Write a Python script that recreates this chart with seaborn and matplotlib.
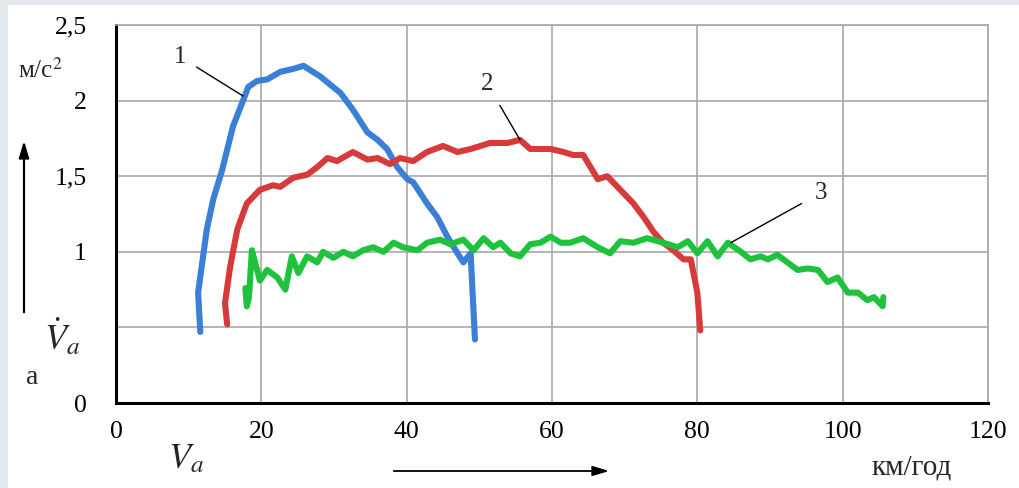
import matplotlib
matplotlib.use("Agg")
import matplotlib.pyplot as plt
import seaborn as sns
import pandas as pd

# curve 1 (blue)
x1 = [11.6, 11.3, 12.5, 13.4, 14.6, 16.1, 17.4, 18.2, 19.4, 20.8, 22.6, 24.4, 25.8,
      28.1, 30.9, 32.6, 34.6, 36.0, 37.3, 38.7, 40.1, 40.9, 42.8, 44.2, 45.6, 47.0,
      47.8, 48.8, 49.4]
y1 = [0.47, 0.73, 1.15, 1.35, 1.54, 1.83, 1.99, 2.09, 2.13, 2.14, 2.19, 2.21, 2.23,
      2.16, 2.05, 1.94, 1.79, 1.74, 1.68, 1.56, 1.48, 1.46, 1.32, 1.23, 1.10, 0.99,
      0.93, 0.99, 0.42]

# curve 2 (red)
x2 = [15.3, 15.0, 15.7, 16.7, 18.0, 19.8, 21.6, 22.6, 24.4, 26.3, 27.7, 29.1, 30.4,
      32.6, 34.6, 36.0, 37.7, 39.1, 40.9, 42.8, 45.0, 47.0, 48.8, 51.5, 53.9, 55.6,
      57.0, 59.8, 61.6, 62.9, 64.3, 66.3, 67.6, 69.4, 71.2, 72.6, 74.0, 75.3, 76.7,
      78.1, 79.1, 80.0, 80.4]
y2 = [0.52, 0.66, 0.90, 1.15, 1.32, 1.41, 1.44, 1.43, 1.49, 1.51, 1.56, 1.62, 1.60,
      1.66, 1.61, 1.62, 1.58, 1.62, 1.60, 1.66, 1.70, 1.66, 1.68, 1.72, 1.72, 1.74,
      1.68, 1.68, 1.66, 1.64, 1.64, 1.48, 1.50, 1.41, 1.32, 1.23, 1.13, 1.06, 1.01,
      0.95, 0.95, 0.73, 0.48]

# curve 3 (green)
x3 = [17.8, 18.0, 18.3, 18.7, 19.8, 20.8, 22.2, 23.3, 24.2, 25.1, 26.3, 27.7, 28.5,
      29.9, 31.3, 32.6, 34.0, 35.4, 36.8, 38.2, 39.5, 41.5, 42.8, 44.6, 46.0, 47.8,
      49.2, 50.6, 51.9, 52.9, 54.3, 55.6, 57.0, 58.4, 59.8, 61.2, 62.5, 64.3, 66.3,
      68.0, 69.4, 71.2, 73.1, 75.3, 77.3, 78.7, 80.0, 81.4, 82.8, 84.2, 86.0, 87.3,
      88.7, 89.7, 91.0, 92.4, 93.8, 95.2, 96.6, 97.9, 99.3, 100.7, 102.1, 103.4,
      104.3, 105.5, 105.6]
y3 = [0.76, 0.64, 0.70, 1.01, 0.81, 0.88, 0.83, 0.75, 0.97, 0.86, 0.97, 0.93, 1.00,
      0.96, 1.00, 0.97, 1.01, 1.03, 1.00, 1.06, 1.03, 1.01, 1.06, 1.08, 1.05, 1.08,
      1.01, 1.09, 1.03, 1.06, 0.99, 0.97, 1.05, 1.06, 1.10, 1.06, 1.06, 1.09, 1.03,
      0.99, 1.07, 1.06, 1.09, 1.06, 1.03, 1.07, 0.99, 1.07, 0.97, 1.06, 1.00, 0.95,
      0.97, 0.95, 0.98, 0.93, 0.88, 0.89, 0.88, 0.80, 0.83, 0.73, 0.73, 0.68,
      0.70, 0.64, 0.70]

x_ticks = [0, 20, 40, 60, 80, 100, 120]
y_ticks = [0, 0.5, 1, 1.5, 2, 2.5]
y_tick_labels = ["0", "", "1", "1,5", "2", "2,5"]

sns.set_style("white")
plt.rcParams["font.family"] = ["Liberation Serif", "DejaVu Serif"]
plt.rcParams["mathtext.fontset"] = "stix"

fig = plt.figure(figsize=(10.19, 4.88), dpi=100, facecolor="#e3e8ee")
# white sheet inside the faint frame
fig.patches.append(plt.Rectangle((8 / 1019, 0), 1 - 8 / 1019, 1 - 5 / 488,
                                 transform=fig.transFigure, facecolor="white",
                                 edgecolor="none", zorder=-10))
ax = fig.add_axes([116 / 1019, 1 - 403 / 488, (988 - 116) / 1019, (403 - 25) / 488])
ax.set_zorder(2)

colors = ["#3b80d6", "#d63a3a", "#1fc23c"]
for xs, ys, c in [(x1, y1, colors[0]), (x2, y2, colors[1]), (x3, y3, colors[2])]:
    df = pd.DataFrame({"x": xs, "y": ys})
    sns.lineplot(data=df, x="x", y="y", sort=False, estimator=None, ax=ax,
                 color=c, linewidth=4.4, solid_capstyle="round",
                 solid_joinstyle="round", zorder=3)

ax.set_xlim(0, 120)
ax.set_ylim(0, 2.5)
ax.set_xticks(x_ticks)
ax.set_xticklabels([str(v) for v in x_ticks])
ax.set_yticks(y_ticks)
ax.set_yticklabels(y_tick_labels)
ax.set_xlabel("")
ax.set_ylabel("")
ax.grid(True, color="#a8a8a8", linewidth=1.2)
ax.set_axisbelow(True)
for s in ["top", "right"]:
    ax.spines[s].set_color("#a8a8a8")
    ax.spines[s].set_linewidth(1.2)
for s in ["left", "bottom"]:
    ax.spines[s].set_color("black")
    ax.spines[s].set_linewidth(2.2)
ax.tick_params(axis="both", direction="in", length=5, width=1.5, colors="black",
               labelsize=18.5)
ax.tick_params(axis="y", pad=21)
ax.tick_params(axis="x", pad=13)

# curve numbers with leader lines
ax.annotate("1", xy=(17.5, 2.03), xytext=(8.8, 2.29), fontsize=18,
            ha="center", va="center",
            arrowprops=dict(arrowstyle="-", color="black", lw=1, shrinkA=6, shrinkB=0))
ax.annotate("2", xy=(55.6, 1.74), xytext=(51.1, 2.11), fontsize=18,
            ha="center", va="center",
            arrowprops=dict(arrowstyle="-", color="black", lw=1, shrinkA=6, shrinkB=0))
ax.annotate("3", xy=(84.6, 1.06), xytext=(97.0, 1.39), fontsize=18,
            ha="center", va="center",
            arrowprops=dict(arrowstyle="-", color="black", lw=1, shrinkA=8, shrinkB=0))

# units and symbols around the axes
fig.text(40 / 1019, 1 - 70 / 488, "м/с$^2$", fontsize=18, ha="center", va="center")
fig.text(912 / 1019, 1 - 467 / 488, "км/год", fontsize=21, ha="center", va="center")
fig.text(186 / 1019, 1 - 460 / 488, "$V_a$", fontsize=26, ha="center", va="center")
fig.text(62 / 1019, 1 - 338 / 488, r"$\dot{V}_a$", fontsize=26, ha="center", va="center")
fig.text(32 / 1019, 1 - 378 / 488, "a", fontsize=20, ha="center", va="center")

# direction arrows
fig.add_artist(matplotlib.patches.FancyArrowPatch(
    (391 / 1019, 1 - 471 / 488), (612 / 1019, 1 - 471 / 488),
    transform=fig.transFigure, arrowstyle="-|>,head_length=10,head_width=3",
    color="black", lw=1.3))
fig.add_artist(matplotlib.patches.FancyArrowPatch(
    (24 / 1019, 1 - 315 / 488), (24 / 1019, 1 - 138 / 488),
    transform=fig.transFigure, arrowstyle="-|>,head_length=10,head_width=3",
    color="black", lw=1.6))

fig.savefig("out.png", dpi=100, facecolor=fig.get_facecolor())
